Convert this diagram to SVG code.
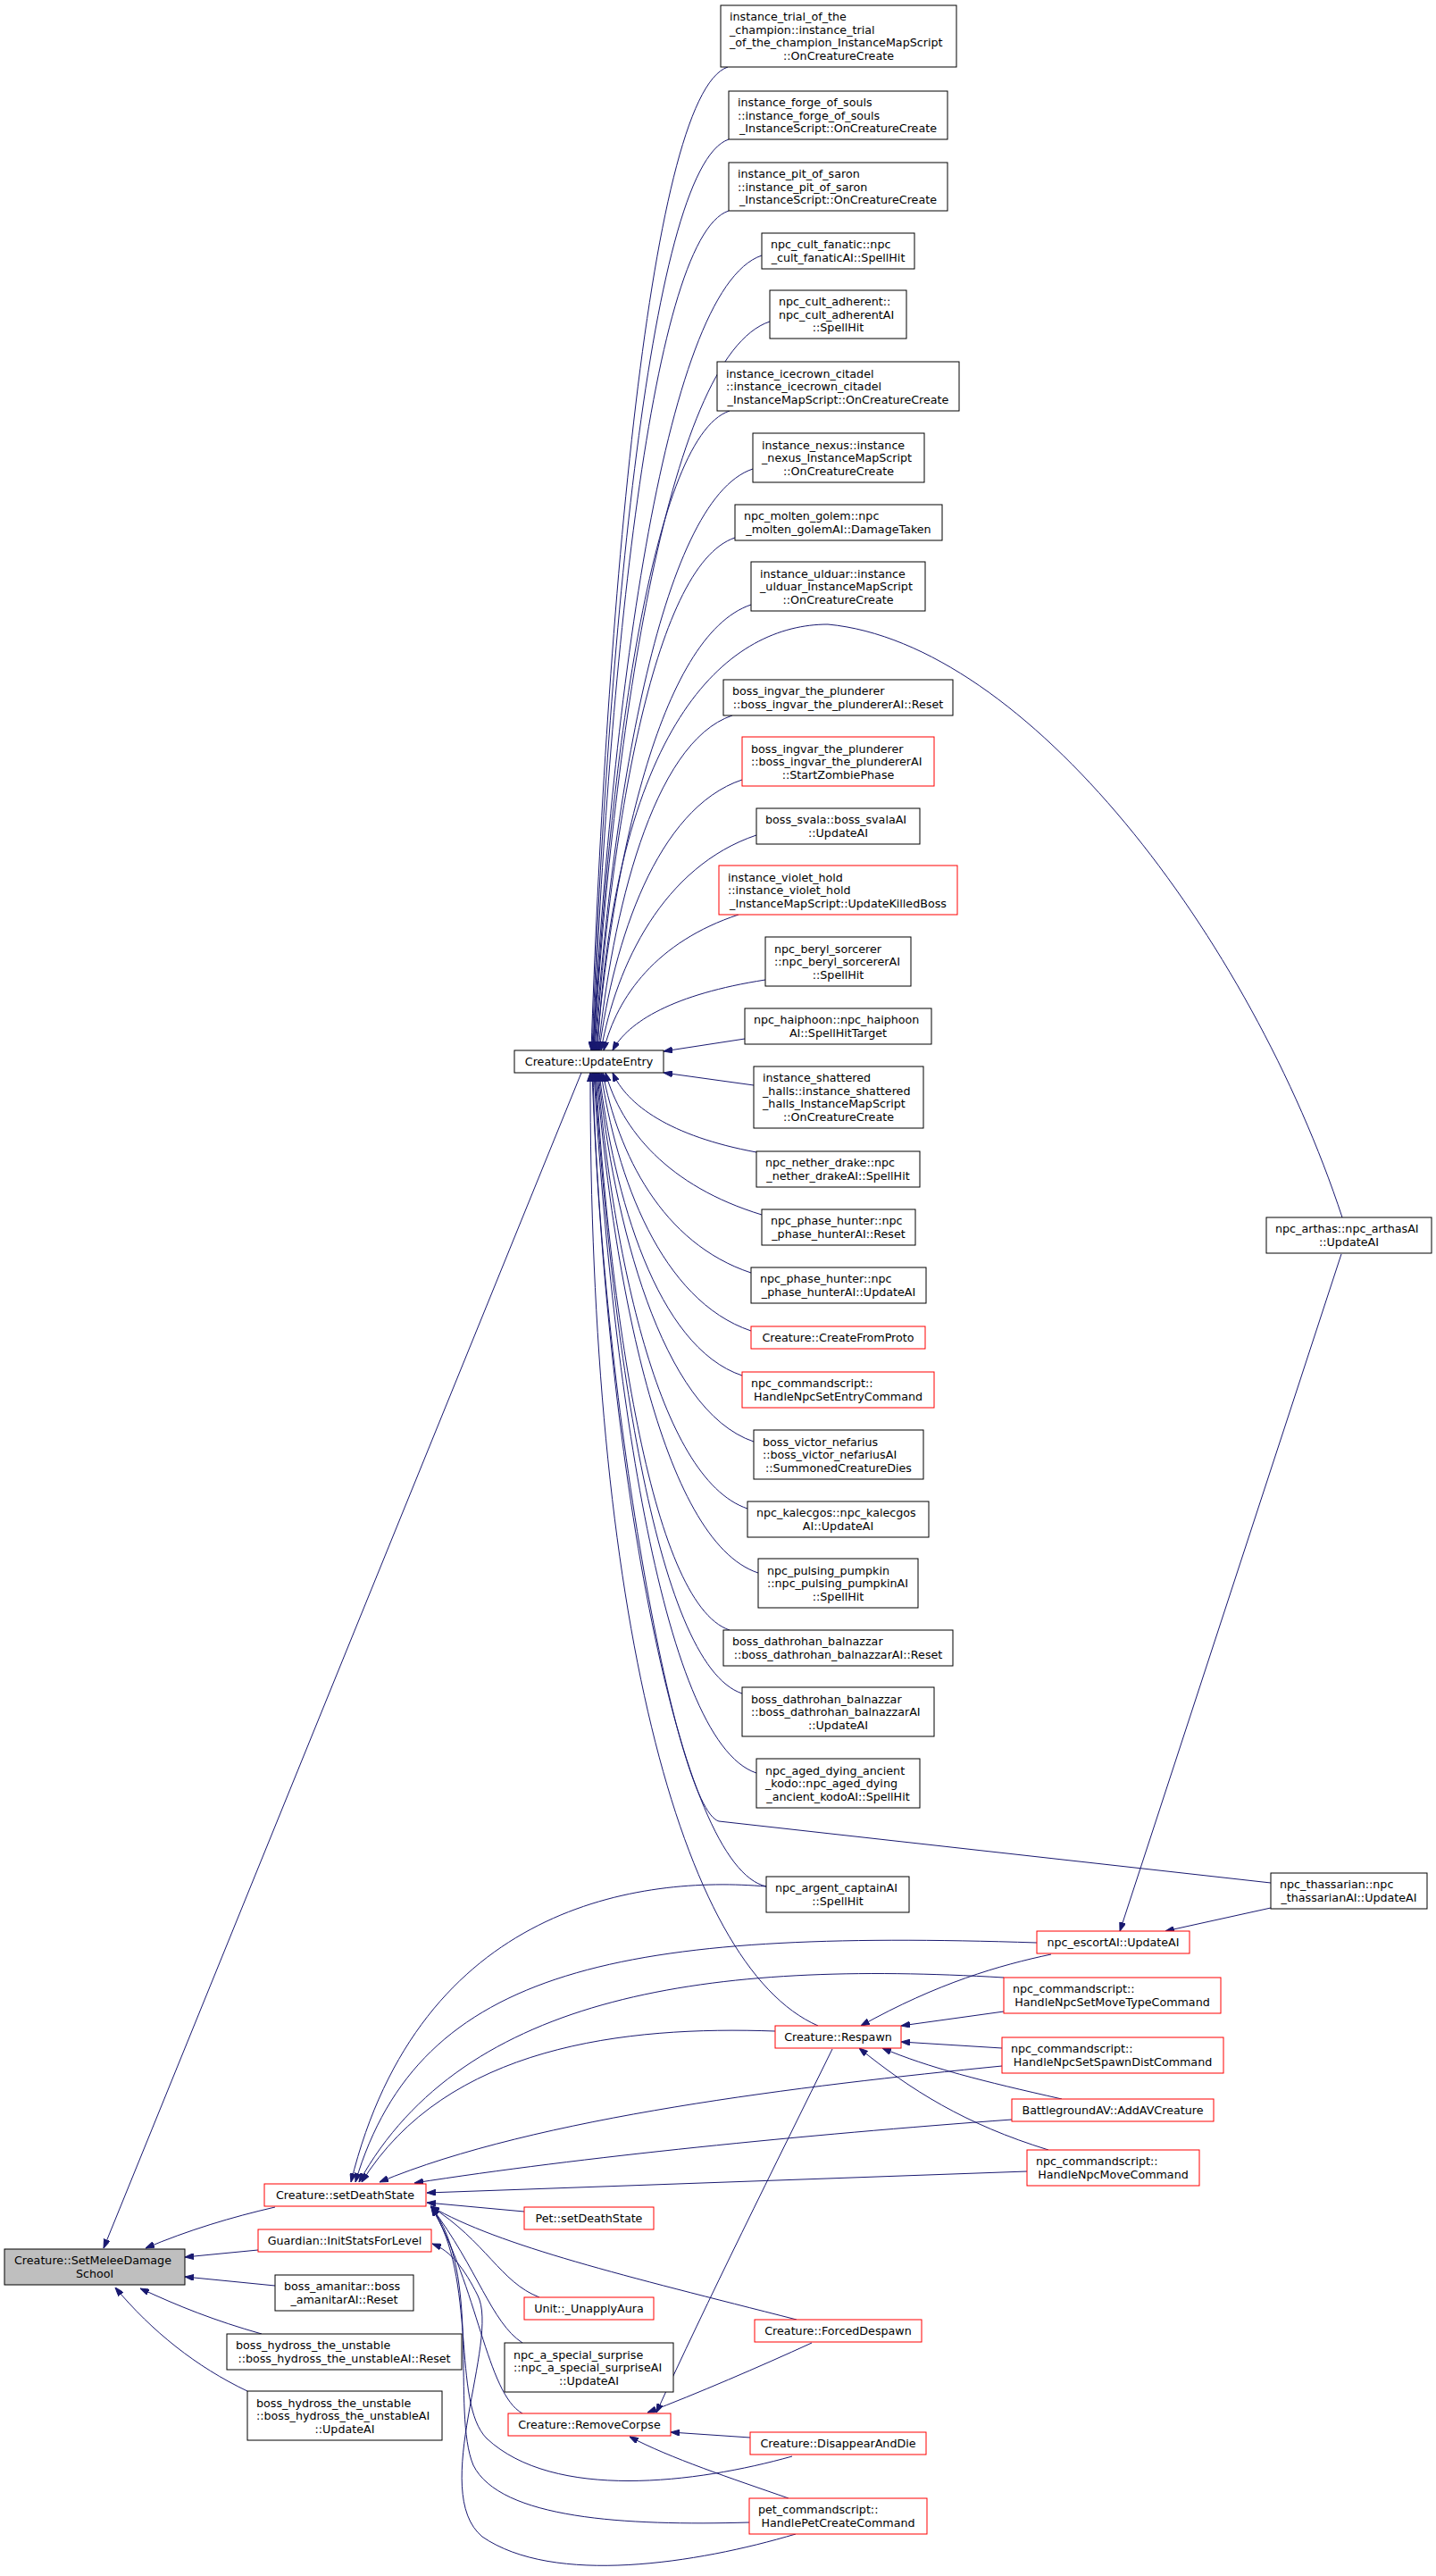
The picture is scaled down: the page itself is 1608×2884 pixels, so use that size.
<svg xmlns="http://www.w3.org/2000/svg" width="1608" height="2884" viewBox="0 0 1608 2884">
<defs>
<style>
.node rect{fill:#fff;stroke:#000;stroke-width:1}
.node.red rect{stroke:#ff0000}
.node.root rect{fill:#bfbfbf}
text{font-family:"DejaVu Sans","Liberation Sans",sans-serif;font-size:12.7px;fill:#000}
.m{text-anchor:middle}
#edges path{fill:none;stroke:#191970;stroke-width:1;marker-end:url(#ah)}
</style>
<marker id="ah" viewBox="0 0 10 7" refX="10" refY="3.5" markerWidth="10" markerHeight="7" markerUnits="userSpaceOnUse" orient="auto"><path d="M0,0 L10,3.5 L0,7 z" fill="#191970" stroke="#191970"/></marker>
</defs>
<rect width="1608" height="2884" fill="#fff"/>
<g id="edges">
<path d="M815,75 C723,106 677,736 662,1176"/>
<path d="M816,156 C724,187 678,768 663,1176"/>
<path d="M816,236 C725,266 679,800 664,1176"/>
<path d="M853,286 C740,324 683,820 664,1176"/>
<path d="M862,360 C744,399 685,850 665,1176"/>
<path d="M817,460 C726,490 680,890 665,1176"/>
<path d="M843,525 C737,560 684,916 666,1176"/>
<path d="M823,602 C729,633 683,946 667,1176"/>
<path d="M841,677 C737,712 685,976 668,1176"/>
<path d="M820,801 C730,831 685,1026 670,1176"/>
<path d="M831,873 C735,905 687,1055 671,1176"/>
<path d="M847,935 C743,970 690,1080 673,1176"/>
<path d="M827,1024 C736,1054 691,1115 676,1176"/>
<path d="M857,1097 C754,1113 703,1144 686,1176"/>
<path d="M834,1163 L743,1177"/>
<path d="M1503,1363 C1400,1050 1150,720 927,699 C820,699 690,800 669,1176"/>
<path d="M844,1215 L743,1201"/>
<path d="M847,1290 C750,1272 702,1237 686,1201"/>
<path d="M853,1360 C748,1328 696,1265 678,1201"/>
<path d="M841,1425 C741,1392 692,1291 675,1201"/>
<path d="M841,1490 C740,1456 690,1317 673,1201"/>
<path d="M831,1540 C735,1508 687,1337 671,1201"/>
<path d="M844,1614 C740,1579 687,1366 670,1201"/>
<path d="M837,1689 C736,1655 686,1396 669,1201"/>
<path d="M849,1761 C740,1725 686,1425 668,1201"/>
<path d="M817,1825 C727,1795 682,1451 667,1201"/>
<path d="M831,1896 C732,1863 683,1479 666,1201"/>
<path d="M847,1985 C738,1949 683,1515 665,1201"/>
<path d="M1423,2108 L805,2039 C755,2025 672,1550 664,1201"/>
<path d="M858,2112 C760,2090 680,1650 663,1201"/>
<path d="M916,2268 C760,2200 660,1800 661,1201"/>
<path d="M651,1201 L116,2517"/>
<path d="M858,2112 C720,2100 470,2130 393,2443"/>
<path d="M1161,2175 C700,2160 470,2200 398,2443"/>
<path d="M1124,2214 C800,2195 520,2230 402,2443"/>
<path d="M868,2274 C700,2268 500,2290 405,2443"/>
<path d="M1122,2313 C900,2335 600,2370 425,2443"/>
<path d="M1133,2373 C900,2390 650,2415 464,2444"/>
<path d="M1150,2431 L478,2455"/>
<path d="M587,2476 L478,2466"/>
<path d="M604,2572 C560,2555 545,2510 482,2470"/>
<path d="M892,2597 C700,2548 560,2515 482,2470"/>
<path d="M585,2623 C550,2600 535,2540 483,2471"/>
<path d="M585,2702 C545,2680 535,2560 483,2471"/>
<path d="M887,2750 C780,2780 620,2800 545,2730 C505,2690 535,2550 483,2471"/>
<path d="M839,2824 C700,2828 560,2820 530,2760 C505,2700 540,2545 483,2471"/>
<path d="M891,2837 C780,2870 620,2895 540,2840 C480,2790 560,2620 535,2570 C520,2540 505,2520 484,2512"/>
<path d="M932,2294 C870,2420 790,2580 735,2701"/>
<path d="M909,2623 C850,2650 780,2680 725,2701"/>
<path d="M840,2729 L751,2723"/>
<path d="M883,2797 C820,2775 750,2752 705,2728"/>
<path d="M1502,1404 L1254,2162"/>
<path d="M1423,2136 L1305,2162"/>
<path d="M1177,2188 C1120,2200 1050,2220 964,2268"/>
<path d="M1124,2252 L1009,2268"/>
<path d="M1122,2293 L1009,2286"/>
<path d="M1189,2350 C1100,2330 1040,2315 988,2293"/>
<path d="M1174,2407 C1080,2378 1020,2340 962,2293"/>
<path d="M308,2471 C260,2482 210,2497 163,2517"/>
<path d="M289,2519 L207,2527"/>
<path d="M308,2559 L207,2549"/>
<path d="M293,2613 C240,2598 200,2582 157,2562"/>
<path d="M277,2677 C220,2650 170,2610 129,2561"/>
</g>
<g id="n_trial" class="node"><rect x="807" y="6" width="264" height="69"/><text x="817" y="23.3">instance_trial_of_the</text><text x="817" y="37.8">_champion::instance_trial</text><text x="817" y="52.3">_of_the_champion_InstanceMapScript</text><text class="m" x="939" y="66.8">::OnCreatureCreate</text></g>
<g id="n_forge" class="node"><rect x="816" y="102" width="245" height="54"/><text x="826" y="119">instance_forge_of_souls</text><text x="826" y="133.5">::instance_forge_of_souls</text><text class="m" x="938.5" y="148">_InstanceScript::OnCreatureCreate</text></g>
<g id="n_pit" class="node"><rect x="816" y="182" width="245" height="54"/><text x="826" y="199">instance_pit_of_saron</text><text x="826" y="213.5">::instance_pit_of_saron</text><text class="m" x="938.5" y="228">_InstanceScript::OnCreatureCreate</text></g>
<g id="n_fanatic" class="node"><rect x="853" y="261" width="171" height="40"/><text x="863" y="278.3">npc_cult_fanatic::npc</text><text class="m" x="938.5" y="292.8">_cult_fanaticAI::SpellHit</text></g>
<g id="n_adherent" class="node"><rect x="862" y="325" width="153" height="54"/><text x="872" y="342">npc_cult_adherent::</text><text x="872" y="356.5">npc_cult_adherentAI</text><text class="m" x="938.5" y="371">::SpellHit</text></g>
<g id="n_icecrown" class="node"><rect x="803" y="405" width="271" height="55"/><text x="813" y="422.5">instance_icecrown_citadel</text><text x="813" y="437">::instance_icecrown_citadel</text><text class="m" x="938.5" y="451.5">_InstanceMapScript::OnCreatureCreate</text></g>
<g id="n_nexus" class="node"><rect x="843" y="485" width="192" height="55"/><text x="853" y="502.5">instance_nexus::instance</text><text x="853" y="517">_nexus_InstanceMapScript</text><text class="m" x="939" y="531.5">::OnCreatureCreate</text></g>
<g id="n_molten" class="node"><rect x="823" y="565" width="232" height="40"/><text x="833" y="582.3">npc_molten_golem::npc</text><text class="m" x="939" y="596.8">_molten_golemAI::DamageTaken</text></g>
<g id="n_ulduar" class="node"><rect x="841" y="629" width="195" height="55"/><text x="851" y="646.5">instance_ulduar::instance</text><text x="851" y="661">_ulduar_InstanceMapScript</text><text class="m" x="938.5" y="675.5">::OnCreatureCreate</text></g>
<g id="n_ingvar_reset" class="node"><rect x="810" y="761" width="257" height="40"/><text x="820" y="778.3">boss_ingvar_the_plunderer</text><text class="m" x="938.5" y="792.8">::boss_ingvar_the_plundererAI::Reset</text></g>
<g id="n_ingvar_zombie" class="node red"><rect x="831" y="825" width="215" height="55"/><text x="841" y="842.5">boss_ingvar_the_plunderer</text><text x="841" y="857">::boss_ingvar_the_plundererAI</text><text class="m" x="938.5" y="871.5">::StartZombiePhase</text></g>
<g id="n_svala" class="node"><rect x="847" y="905" width="183" height="40"/><text x="857" y="922.3">boss_svala::boss_svalaAI</text><text class="m" x="938.5" y="936.8">::UpdateAI</text></g>
<g id="n_violet" class="node red"><rect x="805" y="969" width="267" height="55"/><text x="815" y="986.5">instance_violet_hold</text><text x="815" y="1001">::instance_violet_hold</text><text class="m" x="938.5" y="1015.5">_InstanceMapScript::UpdateKilledBoss</text></g>
<g id="n_beryl" class="node"><rect x="857" y="1049" width="163" height="55"/><text x="867" y="1066.5">npc_beryl_sorcerer</text><text x="867" y="1081">::npc_beryl_sorcererAI</text><text class="m" x="938.5" y="1095.5">::SpellHit</text></g>
<g id="n_haiphoon" class="node"><rect x="834" y="1129" width="209" height="40"/><text x="844" y="1146.3">npc_haiphoon::npc_haiphoon</text><text class="m" x="938.5" y="1160.8">AI::SpellHitTarget</text></g>
<g id="n_shattered" class="node"><rect x="844" y="1194" width="190" height="69"/><text x="854" y="1211.3">instance_shattered</text><text x="854" y="1225.8">_halls::instance_shattered</text><text x="854" y="1240.3">_halls_InstanceMapScript</text><text class="m" x="939" y="1254.8">::OnCreatureCreate</text></g>
<g id="n_nether" class="node"><rect x="847" y="1289" width="183" height="40"/><text x="857" y="1306.3">npc_nether_drake::npc</text><text class="m" x="938.5" y="1320.8">_nether_drakeAI::SpellHit</text></g>
<g id="n_phase_reset" class="node"><rect x="853" y="1354" width="172" height="40"/><text x="863" y="1371.3">npc_phase_hunter::npc</text><text class="m" x="939" y="1385.8">_phase_hunterAI::Reset</text></g>
<g id="n_phase_update" class="node"><rect x="841" y="1419" width="196" height="40"/><text x="851" y="1436.3">npc_phase_hunter::npc</text><text class="m" x="939" y="1450.8">_phase_hunterAI::UpdateAI</text></g>
<g id="n_createfromproto" class="node red"><rect x="841" y="1485" width="195" height="25"/><text class="m" x="938.5" y="1502">Creature::CreateFromProto</text></g>
<g id="n_setentry" class="node red"><rect x="831" y="1536" width="215" height="40"/><text x="841" y="1553.3">npc_commandscript::</text><text class="m" x="938.5" y="1567.8">HandleNpcSetEntryCommand</text></g>
<g id="n_victor" class="node"><rect x="844" y="1601" width="190" height="55"/><text x="854" y="1618.5">boss_victor_nefarius</text><text x="854" y="1633">::boss_victor_nefariusAI</text><text class="m" x="939" y="1647.5">::SummonedCreatureDies</text></g>
<g id="n_kalecgos" class="node"><rect x="837" y="1681" width="203" height="40"/><text x="847" y="1698.3">npc_kalecgos::npc_kalecgos</text><text class="m" x="938.5" y="1712.8">AI::UpdateAI</text></g>
<g id="n_pumpkin" class="node"><rect x="849" y="1745" width="179" height="55"/><text x="859" y="1762.5">npc_pulsing_pumpkin</text><text x="859" y="1777">::npc_pulsing_pumpkinAI</text><text class="m" x="938.5" y="1791.5">::SpellHit</text></g>
<g id="n_dath_reset" class="node"><rect x="810" y="1825" width="257" height="40"/><text x="820" y="1842.3">boss_dathrohan_balnazzar</text><text class="m" x="938.5" y="1856.8">::boss_dathrohan_balnazzarAI::Reset</text></g>
<g id="n_dath_update" class="node"><rect x="831" y="1889" width="215" height="55"/><text x="841" y="1906.5">boss_dathrohan_balnazzar</text><text x="841" y="1921">::boss_dathrohan_balnazzarAI</text><text class="m" x="938.5" y="1935.5">::UpdateAI</text></g>
<g id="n_aged" class="node"><rect x="847" y="1969" width="183" height="55"/><text x="857" y="1986.5">npc_aged_dying_ancient</text><text x="857" y="2001">_kodo::npc_aged_dying</text><text class="m" x="938.5" y="2015.5">_ancient_kodoAI::SpellHit</text></g>
<g id="n_argent" class="node"><rect x="858" y="2101" width="160" height="40"/><text x="868" y="2118.3">npc_argent_captainAI</text><text class="m" x="938" y="2132.8">::SpellHit</text></g>
<g id="n_arthas" class="node"><rect x="1418" y="1363" width="185" height="40"/><text x="1428" y="1380.3">npc_arthas::npc_arthasAI</text><text class="m" x="1510.5" y="1394.8">::UpdateAI</text></g>
<g id="n_thassarian" class="node"><rect x="1423" y="2097" width="175" height="40"/><text x="1433" y="2114.3">npc_thassarian::npc</text><text class="m" x="1510.5" y="2128.8">_thassarianAI::UpdateAI</text></g>
<g id="n_updateentry" class="node"><rect x="576" y="1176" width="167" height="25"/><text class="m" x="659.5" y="1193">Creature::UpdateEntry</text></g>
<g id="n_escort" class="node red"><rect x="1161" y="2162" width="171" height="25"/><text class="m" x="1246.5" y="2179">npc_escortAI::UpdateAI</text></g>
<g id="n_setmovetype" class="node red"><rect x="1124" y="2214" width="243" height="40"/><text x="1134" y="2231.3">npc_commandscript::</text><text class="m" x="1245.5" y="2245.8">HandleNpcSetMoveTypeCommand</text></g>
<g id="n_respawn" class="node red"><rect x="868" y="2268" width="141" height="25"/><text class="m" x="938.5" y="2285">Creature::Respawn</text></g>
<g id="n_spawndist" class="node red"><rect x="1122" y="2281" width="248" height="40"/><text x="1132" y="2298.3">npc_commandscript::</text><text class="m" x="1246" y="2312.8">HandleNpcSetSpawnDistCommand</text></g>
<g id="n_av" class="node red"><rect x="1133" y="2350" width="226" height="25"/><text class="m" x="1246" y="2367">BattlegroundAV::AddAVCreature</text></g>
<g id="n_movecmd" class="node red"><rect x="1150" y="2407" width="193" height="40"/><text x="1160" y="2424.3">npc_commandscript::</text><text class="m" x="1246.5" y="2438.8">HandleNpcMoveCommand</text></g>
<g id="n_setdeathstate" class="node red"><rect x="296" y="2445" width="181" height="25"/><text class="m" x="386.5" y="2462">Creature::setDeathState</text></g>
<g id="n_guardian" class="node red"><rect x="289" y="2496" width="194" height="25"/><text class="m" x="386" y="2513">Guardian::InitStatsForLevel</text></g>
<g id="n_pet" class="node red"><rect x="587" y="2471" width="145" height="25"/><text class="m" x="659.5" y="2488">Pet::setDeathState</text></g>
<g id="n_unit" class="node red"><rect x="587" y="2572" width="145" height="25"/><text class="m" x="659.5" y="2589">Unit::_UnapplyAura</text></g>
<g id="n_forced" class="node red"><rect x="845" y="2597" width="187" height="25"/><text class="m" x="938.5" y="2614">Creature::ForcedDespawn</text></g>
<g id="n_surprise" class="node"><rect x="565" y="2623" width="189" height="55"/><text x="575" y="2640.5">npc_a_special_surprise</text><text x="575" y="2655">::npc_a_special_surpriseAI</text><text class="m" x="659.5" y="2669.5">::UpdateAI</text></g>
<g id="n_removecorpse" class="node red"><rect x="569" y="2702" width="182" height="25"/><text class="m" x="660" y="2719">Creature::RemoveCorpse</text></g>
<g id="n_disappear" class="node red"><rect x="840" y="2723" width="197" height="25"/><text class="m" x="938.5" y="2740">Creature::DisappearAndDie</text></g>
<g id="n_petcmd" class="node red"><rect x="839" y="2797" width="199" height="40"/><text x="849" y="2814.3">pet_commandscript::</text><text class="m" x="938.5" y="2828.8">HandlePetCreateCommand</text></g>
<g id="n_setmelee" class="node root"><rect x="5" y="2518" width="202" height="40"/><text x="16" y="2535.3">Creature::SetMeleeDamage</text><text class="m" x="106" y="2549.8">School</text></g>
<g id="n_amanitar" class="node"><rect x="308" y="2547" width="155" height="40"/><text x="318" y="2564.3">boss_amanitar::boss</text><text class="m" x="385.5" y="2578.8">_amanitarAI::Reset</text></g>
<g id="n_hydross_reset" class="node"><rect x="254" y="2613" width="263" height="40"/><text x="264" y="2630.3">boss_hydross_the_unstable</text><text class="m" x="385.5" y="2644.8">::boss_hydross_the_unstableAI::Reset</text></g>
<g id="n_hydross_update" class="node"><rect x="277" y="2677" width="218" height="55"/><text x="287" y="2694.5">boss_hydross_the_unstable</text><text x="287" y="2709">::boss_hydross_the_unstableAI</text><text class="m" x="386" y="2723.5">::UpdateAI</text></g>
</svg>
